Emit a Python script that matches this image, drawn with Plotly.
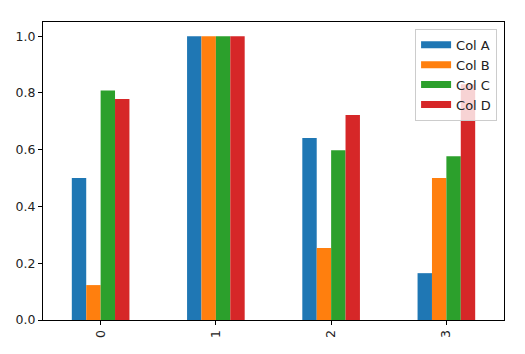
import plotly.graph_objects as go

categories = ["0", "1", "2", "3"]
series_names = ["Col A", "Col B", "Col C", "Col D"]
col_a = [0.50, 1.00, 0.641, 0.165]
col_b = [0.123, 1.00, 0.254, 0.50]
col_c = [0.809, 1.00, 0.598, 0.577]
col_d = [0.779, 1.00, 0.722, 0.831]
y_ticks = [0.0, 0.2, 0.4, 0.6, 0.8, 1.0]

colors = ["#1f77b4", "#ff7f0e", "#2ca02c", "#d62728"]
values = [col_a, col_b, col_c, col_d]

fig = go.Figure()
for name, vals, c in zip(series_names, values, colors):
    fig.add_trace(go.Bar(x=categories, y=vals, name=name, marker=dict(color=c, line=dict(width=0)),
                         showlegend=False))
for name, c in zip(series_names, colors):
    fig.add_trace(go.Scatter(x=[None], y=[None], mode="lines", name=name,
                             line=dict(color=c, width=7)))

font = dict(family="DejaVu Sans", size=12.5, color="#222222")
legend_font = dict(family="DejaVu Sans", size=13, color="#222222")
fig.update_layout(
    width=525, height=354,
    margin=dict(l=43, r=21, t=22, b=34),
    paper_bgcolor="white", plot_bgcolor="white",
    font=font,
    barmode="group", bargap=0.5, bargroupgap=0,
    showlegend=True,
    legend=dict(x=0.985, y=0.977, xanchor="right", yanchor="top",
                bgcolor="rgba(255,255,255,0.8)", bordercolor="#cccccc", borderwidth=1,
                font=legend_font, itemwidth=30, tracegroupgap=0),
)
fig.update_xaxes(type="category", range=[-0.5, 3.5], showline=True, linecolor="black", linewidth=1,
                 mirror=True, ticks="outside", ticklen=4, tickcolor="black", tickangle=-90,
                 showgrid=False, zeroline=False)
fig.update_yaxes(range=[0, 1.05], tickvals=y_ticks, tickformat=".1f", showline=True, linecolor="black",
                 linewidth=1, mirror=True, ticks="outside", ticklen=4, tickcolor="black",
                 showgrid=False, zeroline=False)

fig.write_html("out.html")
